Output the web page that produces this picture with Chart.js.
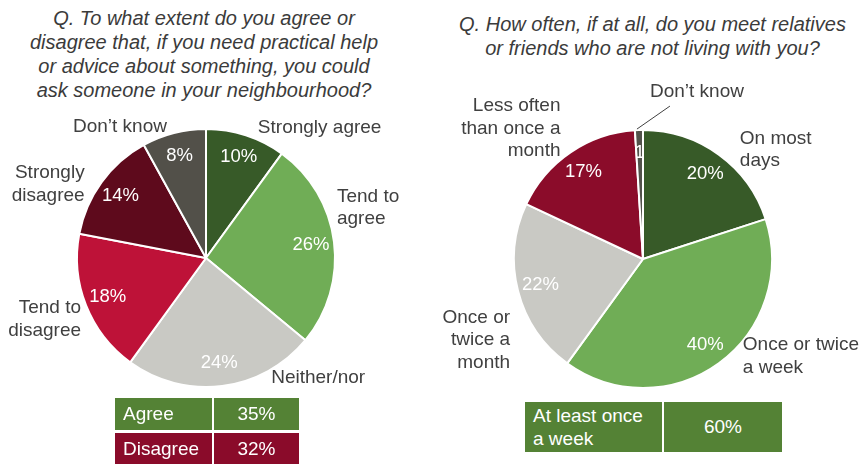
<!DOCTYPE html>
<html>
<head>
<meta charset="utf-8">
<script src="https://cdn.jsdelivr.net/npm/chart.js@4.4.1/dist/chart.umd.min.js"></script>
<style>
  body { margin: 0; background: #fff; font-family: "Liberation Sans", Arial, sans-serif; }
  #wrap { position: relative; width: 859px; height: 465px; overflow: hidden; }
  canvas { position: absolute; top: 0; }
  .title { position: absolute; font-style: italic; font-size: 20px; line-height: 24px; color: #3b3b3b; text-align: center; }
  table { position: absolute; border-collapse: separate; color: #fff; font-size: 19px; }
  td { padding: 0 0 0 8px; }
  td.num { text-align: center; padding: 0; }
</style>
</head>
<body>
<div id="wrap">
  <div class="title" style="left:0;top:6px;width:408px;">Q. To what extent do you agree or<br>disagree that, if you need practical help<br>or advice about something, you could<br>ask someone in your neighbourhood?</div>
  <div class="title" style="left:446px;top:12px;width:413px;">Q. How often, if at all, do you meet relatives<br>or friends who are not living with you?</div>
  <canvas id="leftPie" width="430" height="400" style="left:0"></canvas>
  <canvas id="rightPie" width="429" height="400" style="left:430px"></canvas>
  <table id="leftTable" style="left:113px;top:395px;border-spacing:2px 3px;">
    <tr style="height:32px;background:#548235"><td style="width:89px" id="ag"></td><td class="num" style="width:85px" id="agv"></td></tr>
    <tr style="height:31px;background:#8a0b2a"><td id="dis"></td><td class="num" id="disv"></td></tr>
  </table>
  <table id="rightTable" style="left:523px;top:400px;border-spacing:2px 2px;">
    <tr style="height:50px;background:#548235"><td style="width:129px;line-height:23px" id="wk"></td><td class="num" style="width:118px" id="wkv"></td></tr>
  </table>
</div>
<script>
// left chart: neighbourhood help
const leftCategories = [['Strongly agree'], ['Tend to', 'agree'], ['Neither/nor'], ['Tend to', 'disagree'], ['Strongly', 'disagree'], ['Don\u2019t know']];
const leftValues = [10, 26, 24, 18, 14, 8];
const leftColors = ['#375a28', '#70ad56', '#c9c9c4', '#be1238', '#5e0a1c', '#525049'];

// right chart: meeting relatives or friends
const rightCategories = [['On most', 'days'], ['Once or twice', 'a week'], ['Once or', 'twice a', 'month'], ['Less often', 'than once a', 'month'], ['Don\u2019t know']];
const rightValues = [20, 40, 22, 17, 1];
const rightColors = ['#375a28', '#70ad56', '#c9c9c4', '#8b0c2a', '#52524b'];

// summary boxes
const leftSummaryLabels = ['Agree', 'Disagree'];
const leftSummaryValues = [35, 32];
const rightSummaryLabels = ['At least once<br>a week'];
const rightSummaryValues = [60];

document.getElementById('ag').textContent = leftSummaryLabels[0];
document.getElementById('agv').textContent = leftSummaryValues[0] + '%';
document.getElementById('dis').textContent = leftSummaryLabels[1];
document.getElementById('disv').textContent = leftSummaryValues[1] + '%';
document.getElementById('wk').innerHTML = rightSummaryLabels[0];
document.getElementById('wkv').textContent = rightSummaryValues[0] + '%';

// draws the % inside each slice and the category name outside it
const sliceLabels = {
  id: 'sliceLabels',
  afterDatasetsDraw(chart, args, opts) {
    const ctx = chart.ctx;
    const arcs = chart.getDatasetMeta(0).data;
    const values = chart.data.datasets[0].data;
    arcs.forEach((arc, i) => {
      const p = arc.getProps(['x', 'y', 'startAngle', 'endAngle', 'outerRadius'], true);
      const mid = (p.startAngle + p.endAngle) / 2;
      const v = values[i];

      // value inside, clipped to its slice (the 1 sliver gets cut off)
      ctx.save();
      ctx.beginPath();
      ctx.moveTo(p.x, p.y);
      ctx.arc(p.x, p.y, p.outerRadius, p.startAngle, p.endAngle);
      ctx.closePath();
      ctx.clip();
      ctx.fillStyle = '#fff';
      ctx.font = '18.5px "Liberation Sans", Arial, sans-serif';
      ctx.textAlign = 'center';
      ctx.textBaseline = 'middle';
      const r = p.outerRadius * 0.82;
      ctx.fillText(v < 2 ? String(v) : v + '%', p.x + Math.cos(mid) * r, p.y + Math.sin(mid) * r);
      ctx.restore();

      // category outside
      const ex = p.x + Math.cos(mid) * p.outerRadius;
      const ey = p.y + Math.sin(mid) * p.outerRadius;
      const [dx, dy, align] = opts.nudges[i];
      const lines = chart.data.labels[i];
      ctx.save();
      ctx.fillStyle = '#404040';
      ctx.font = '19px "Liberation Sans", Arial, sans-serif';
      ctx.textAlign = align;
      ctx.textBaseline = 'middle';
      const lh = 22.5;
      const y0 = ey + dy - (lines.length - 1) * lh / 2;
      lines.forEach((t, k) => ctx.fillText(t, ex + dx, y0 + k * lh));
      const lead = opts.leaders && opts.leaders[i];
      if (lead) {
        ctx.strokeStyle = '#404040';
        ctx.lineWidth = 1;
        ctx.beginPath();
        ctx.moveTo(ex + lead[0], ey + lead[1]);
        ctx.lineTo(ex + lead[2], ey + lead[3]);
        ctx.stroke();
      }
      ctx.restore();
    });
  }
};

function makePie(id, labels, values, colors, padding, nudges, leaders) {
  return new Chart(document.getElementById(id).getContext('2d'), {
    type: 'pie',
    data: {
      labels: labels,
      datasets: [{
        data: values,
        backgroundColor: colors,
        borderColor: '#fff',
        borderWidth: 2
      }]
    },
    options: {
      responsive: false,
      animation: false,
      layout: { padding: padding },
      plugins: {
        legend: { display: false },
        tooltip: { enabled: false },
        sliceLabels: { nudges: nudges, leaders: leaders }
      }
    },
    plugins: [sliceLabels]
  });
}

makePie('leftPie', leftCategories, leftValues, leftColors,
  { left: 76, right: 94, top: 128, bottom: 12 },
  [[12, -8, 'left'], [3, -34, 'left'], [49, -8, 'left'], [-5, 14, 'right'], [-17, 2, 'right'], [-7, -6, 'right']]);

makePie('rightPie', rightCategories, rightValues, rightColors,
  { left: 83, right: 86, top: 129, bottom: 11 },
  [[21, -5, 'left'], [24, -7, 'left'], [-8, 49, 'right'], [-10, -24, 'right'], [11, -38, 'left']],
  { 4: [-2, -1, 31, -24] });
</script>
</body>
</html>
